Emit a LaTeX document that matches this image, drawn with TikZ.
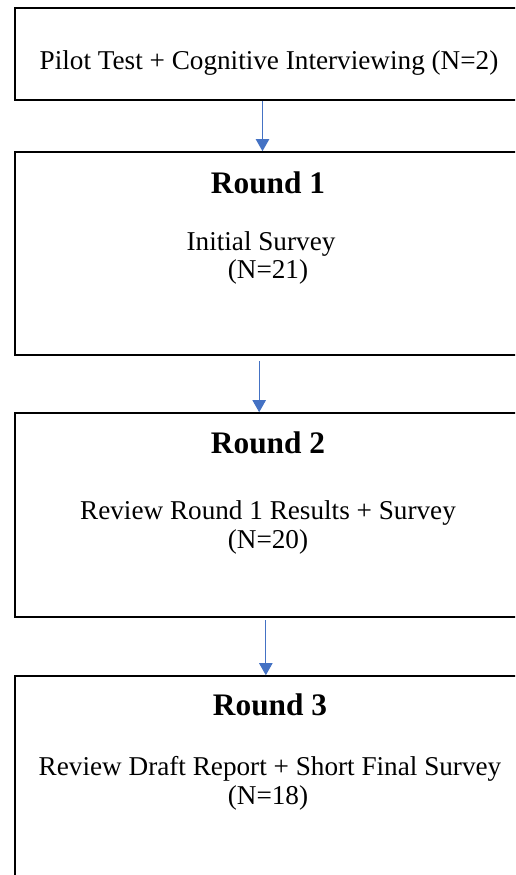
\documentclass[tikz,border=0pt]{standalone}
\usepackage{fontspec}
\setmainfont{Liberation Serif}
\usepackage{xcolor}
\usetikzlibrary{arrows.meta}
\definecolor{flowblue}{RGB}{68,114,196}
\tikzset{
  stagebox/.style={draw, line width=1.2pt, rectangle, inner sep=0pt, minimum width=380.25pt},
  stagetitle/.style={font=\fontsize{23.5}{28}\selectfont\bfseries, inner sep=0pt},
  stagetext/.style={font=\fontsize{20.4}{24}\selectfont, inner sep=0pt, align=center},
  flow/.style={draw=flowblue, line width=0.8pt, -{Triangle[length=9pt,width=10pt]}, fill=flowblue}
}
\begin{document}
\begin{tikzpicture}[x=0.75pt,y=0.75pt,yscale=-1]
\useasboundingbox (0,0) rectangle (515,875);
\clip (0,0) rectangle (515,875);

%Shape: Rectangle [pilot]
\node [stagebox, minimum height=69pt] (pilot) at (268.5,54) {};
%Shape: Rectangle [round 1]
\node [stagebox, minimum height=152.25pt] (roundone) at (268.5,253.5) {};
%Shape: Rectangle [round 2]
\node [stagebox, minimum height=153pt] (roundtwo) at (268.5,515) {};
%Shape: Rectangle [round 3]
\node [stagebox, minimum height=153pt] (roundthree) at (268.5,778) {};

%Straight Lines
\draw [flow] ([xshift=-4.5pt]pilot.south) -- ([xshift=-4.5pt]roundone.north);
\draw [flow] ([xshift=-7pt,yshift=4pt]roundone.south) -- ([xshift=-7pt]roundtwo.north);
\draw [flow] ([xshift=-2pt,yshift=2pt]roundtwo.south) -- ([xshift=-2pt]roundthree.north);

% Text Node
\node [stagetext] (pilottxt) at (269,63) {Pilot Test + Cognitive Interviewing (N=2)};
% Text Node
\node [stagetitle] (onetitle) at (268,183) {Round 1};
\node [stagetext] (onetxt) at (261,244) {Initial Survey};
\node [stagetext] (onen) at (268,272) {(N=21)};
% Text Node
\node [stagetitle] (twotitle) at (268,443) {Round 2};
\node [stagetext] (twotxt) at (268,513) {Review Round 1 Results + Survey};
\node [stagetext] (twon) at (268,542) {(N=20)};
% Text Node
\node [stagetitle] (threetitle) at (270,705) {Round 3};
\node [stagetext] (threetxt) at (270,769) {Review Draft Report + Short Final Survey};
\node [stagetext] (threen) at (268,798) {(N=18)};

\end{tikzpicture}
\end{document}
